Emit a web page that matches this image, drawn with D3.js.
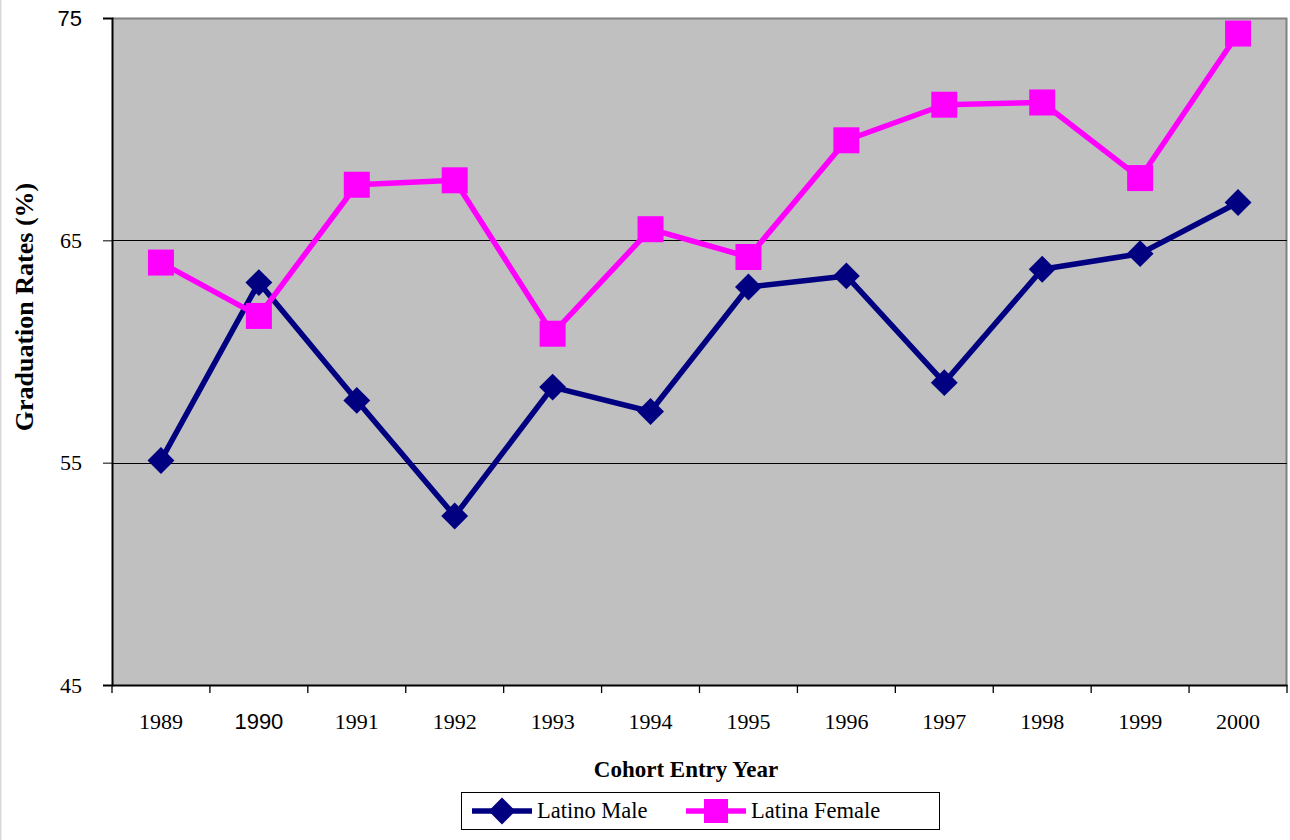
<!DOCTYPE html>
<html><head><meta charset="utf-8">
<script src="https://cdn.jsdelivr.net/npm/d3@7"></script>
<style>body{margin:0;background:#fff}svg{display:block}</style>
</head><body>
<svg id="c" width="1290" height="840"></svg>
<script>
const years = ["1989","1990","1991","1992","1993","1994","1995","1996","1997","1998","1999","2000"];
const latinoMale = [55.1,63.1,57.8,52.6,58.4,57.3,62.9,63.4,58.6,63.7,64.4,66.7];
const latinaFemale = [64.0,61.6,67.5,67.7,60.8,65.5,64.25,69.5,71.1,71.2,67.8,74.3];
const yTicks = [45,55,65,75];
const seriesNames = ["Latino Male","Latina Female"];

const svg = d3.select("#c");
const L=112, R=1287, T=18, B=685;
const x = d3.scaleBand().domain(years).range([L,R]);
const y = d3.scaleLinear().domain([45,75]).range([B,T]);
const serif = "'Liberation Serif','Times New Roman',serif";
const sans = "'Liberation Sans',Arial,sans-serif";

svg.append("line").attr("x1",0.5).attr("x2",0.5).attr("y1",0).attr("y2",840).attr("stroke","#d9d9d9").attr("stroke-width",2);

svg.append("rect").attr("x",L).attr("y",T).attr("width",R-L).attr("height",B-T).attr("fill","#C0C0C0");
svg.append("path").attr("d",`M${L},${T+0.5}H${R-0.5}V${B}`).attr("fill","none").attr("stroke","#808080").attr("stroke-width",2);
svg.selectAll(".grid").data([55,65]).join("line")
  .attr("x1",L).attr("x2",R).attr("y1",d=>Math.round(y(d))+0.5).attr("y2",d=>Math.round(y(d))+0.5)
  .attr("stroke","#000").attr("stroke-width",1);

const ya = svg.append("g").attr("transform",`translate(${L},0)`)
  .call(d3.axisLeft(y).tickValues(yTicks).tickSize(9).tickPadding(21));
ya.select(".domain").attr("stroke","#000").attr("stroke-width",2);
ya.selectAll("text").attr("font-size",22).attr("fill","#000")
  .attr("font-family",d=>d===75?sans:serif);

const xa = svg.append("g").attr("transform",`translate(0,${B})`)
  .call(d3.axisBottom(x).tickSize(0).tickPadding(28));
xa.select(".domain").attr("stroke","#000").attr("stroke-width",2);
xa.selectAll("text").attr("font-size",22).attr("fill","#000")
  .attr("font-family",d=>d==="1990"?sans:serif);
const bounds = years.map(d=>x(d)).concat([R]);
xa.selectAll(".bt").data(bounds).join("line")
  .attr("x1",d=>d).attr("x2",d=>d).attr("y1",0).attr("y2",8).attr("stroke","#000").attr("stroke-width",1.3);

svg.append("text").attr("x",686).attr("y",777).attr("text-anchor","middle")
  .attr("font-family",serif).attr("font-weight","bold").attr("font-size",23).text("Cohort Entry Year");
svg.append("text").attr("transform","translate(33,307) rotate(-90)").attr("text-anchor","middle")
  .attr("font-family",serif).attr("font-weight","bold").attr("font-size",26).text("Graduation Rates (%)");

const cx = d=>x(d)+x.bandwidth()/2;
const line = d3.line().x((d,i)=>cx(years[i])).y(d=>y(d));
const navy="#000080", mag="#FF00FF";

svg.append("path").datum(latinoMale).attr("d",line).attr("fill","none").attr("stroke",navy).attr("stroke-width",5.5).attr("stroke-linejoin","round");
svg.append("path").datum(latinaFemale).attr("d",line).attr("fill","none").attr("stroke",mag).attr("stroke-width",5.5).attr("stroke-linejoin","round");

svg.selectAll(".m").data(latinoMale).join("rect")
  .attr("x",-9.5).attr("y",-9.5).attr("width",19).attr("height",19)
  .attr("transform",(d,i)=>`translate(${cx(years[i])},${y(d)}) rotate(45)`).attr("fill",navy);
svg.selectAll(".f").data(latinaFemale).join("rect")
  .attr("x",(d,i)=>cx(years[i])-13).attr("y",d=>y(d)-13).attr("width",26).attr("height",26).attr("fill",mag);

const lg = svg.append("g");
lg.append("rect").attr("x",461.5).attr("y",792.5).attr("width",478).attr("height",37).attr("fill","#fff").attr("stroke","#000").attr("stroke-width",1);
const items = [{name:seriesNames[0],c:navy,x0:472,shape:"d"},{name:seriesNames[1],c:mag,x0:686,shape:"s"}];
items.forEach(it=>{
  lg.append("line").attr("x1",it.x0).attr("x2",it.x0+60).attr("y1",811).attr("y2",811).attr("stroke",it.c).attr("stroke-width",5.5);
  if(it.shape==="d"){
    lg.append("rect").attr("x",-9.5).attr("y",-9.5).attr("width",19).attr("height",19)
      .attr("transform",`translate(${it.x0+30},811) rotate(45)`).attr("fill",it.c);
  } else {
    lg.append("rect").attr("x",it.x0+30-12).attr("y",811-12).attr("width",24).attr("height",24).attr("fill",it.c);
  }
  lg.append("text").attr("x",it.x0+65).attr("y",818).attr("font-family",serif).attr("font-size",22.5).text(it.name);
});
</script>
</body></html>
